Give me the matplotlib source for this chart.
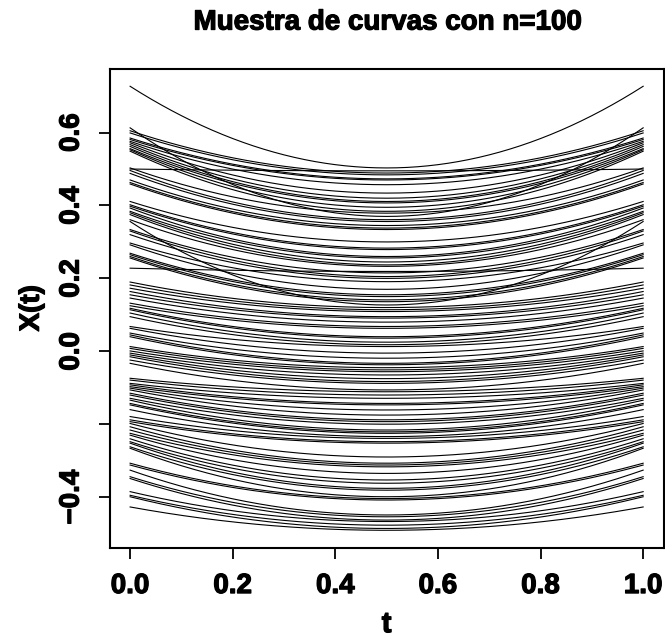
import numpy as np
import matplotlib
matplotlib.use("Agg")
import matplotlib.pyplot as plt
import matplotlib.patheffects as pe

# value of each curve at t=0 and t=1 (curves are symmetric about t=0.5)
x_end = [0.727, 0.613, 0.605, 0.599, 0.585, 0.581, 0.576, 0.572, 0.567, 0.562,
         0.556, 0.553, 0.549, 0.503, 0.500, 0.496, 0.488, 0.470, 0.463, 0.459,
         0.411, 0.402, 0.398, 0.393, 0.384, 0.380, 0.375, 0.361, 0.356, 0.334,
         0.330, 0.320, 0.297, 0.292, 0.269, 0.265, 0.260, 0.256, 0.228, 0.190,
         0.182, 0.173, 0.164, 0.155, 0.146, 0.132, 0.125, 0.118, 0.114, 0.105,
         0.095, 0.068, 0.063, 0.050, 0.045, 0.040, 0.013, 0.008, 0.001, -0.005,
         -0.010, -0.015, -0.024, -0.033, -0.074, -0.079, -0.088, -0.092, -0.097, -0.101,
         -0.106, -0.115, -0.120, -0.129, -0.134, -0.143, -0.147, -0.160, -0.179, -0.188,
         -0.193, -0.198, -0.207, -0.216, -0.225, -0.230, -0.240, -0.248, -0.252, -0.262,
         -0.266, -0.307, -0.312, -0.326, -0.344, -0.349, -0.385, -0.395, -0.399, -0.427]

# value of each curve at t=0.5
x_mid = [0.503, 0.370, 0.489, 0.484, 0.473, 0.470, 0.457, 0.434, 0.420, 0.411,
         0.407, 0.395, 0.384, 0.379, 0.495, 0.361, 0.356, 0.345, 0.338, 0.334,
         0.300, 0.283, 0.279, 0.260, 0.256, 0.245, 0.237, 0.233, 0.127, 0.215,
         0.205, 0.200, 0.191, 0.170, 0.155, 0.150, 0.141, 0.136, 0.219, 0.120,
         0.114, 0.109, 0.095, 0.091, 0.080, 0.068, 0.063, 0.040, 0.036, 0.025,
         0.018, 0.013, -0.005, -0.019, -0.033, -0.037, -0.045, -0.051, -0.056, -0.065,
         -0.075, -0.083, -0.088, -0.106, -0.111, -0.120, -0.129, -0.143, -0.147, -0.161,
         -0.175, -0.188, -0.193, -0.200, -0.216, -0.221, -0.225, -0.234, -0.239, -0.248,
         -0.252, -0.290, -0.307, -0.312, -0.317, -0.335, -0.353, -0.362, -0.376, -0.381,
         -0.399, -0.404, -0.408, -0.449, -0.454, -0.463, -0.467, -0.477, -0.486, -0.491]

x_ticks = [0.0, 0.2, 0.4, 0.6, 0.8, 1.0]
x_labels = ["0.0", "0.2", "0.4", "0.6", "0.8", "1.0"]
y_ticks = [-0.4, -0.2, 0.0, 0.2, 0.4, 0.6]
y_labels = ["\u22120.4", "", "0.0", "0.2", "0.4", "0.6"]

plt.rcParams['font.family'] = ['Liberation Sans', 'DejaVu Sans']
plt.rcParams['font.weight'] = 'bold'

# slightly heavier strokes for all text
heavy = [pe.withStroke(linewidth=0.9, foreground='black')]

fig = plt.figure(figsize=(6.65, 6.44), dpi=100)
ax = fig.add_axes([0.1648, 0.149, 0.8332, 0.7446])

t = np.linspace(0, 1, 201)
for e, m in zip(x_end, x_mid):
    ax.plot(t, m + (e - m) * 4 * (t - 0.5) ** 2, color='black', lw=0.8)

ax.margins(x=0.04, y=0.04)
ax.set_xticks(x_ticks)
ax.set_xticklabels(x_labels, fontsize=20, fontweight='bold', path_effects=heavy)
ax.set_yticks(y_ticks)
ax.set_yticklabels(y_labels, fontsize=20, fontweight='bold',
                   rotation=90, va='center', path_effects=heavy)
ax.tick_params(length=8, width=1.3, pad=10)
for s in ax.spines.values():
    s.set_linewidth(1.5)

ax.set_xlabel("t", fontsize=21, fontweight='bold', labelpad=8, path_effects=heavy)
ax.set_ylabel("X(t)", fontsize=20, fontweight='bold', labelpad=10, path_effects=heavy)
fig.text(0.583, 0.965, "Muestra de curvas con n=100", ha='center', va='center',
         fontsize=20, fontweight='bold', path_effects=heavy)

fig.savefig("out.png", dpi=100)
